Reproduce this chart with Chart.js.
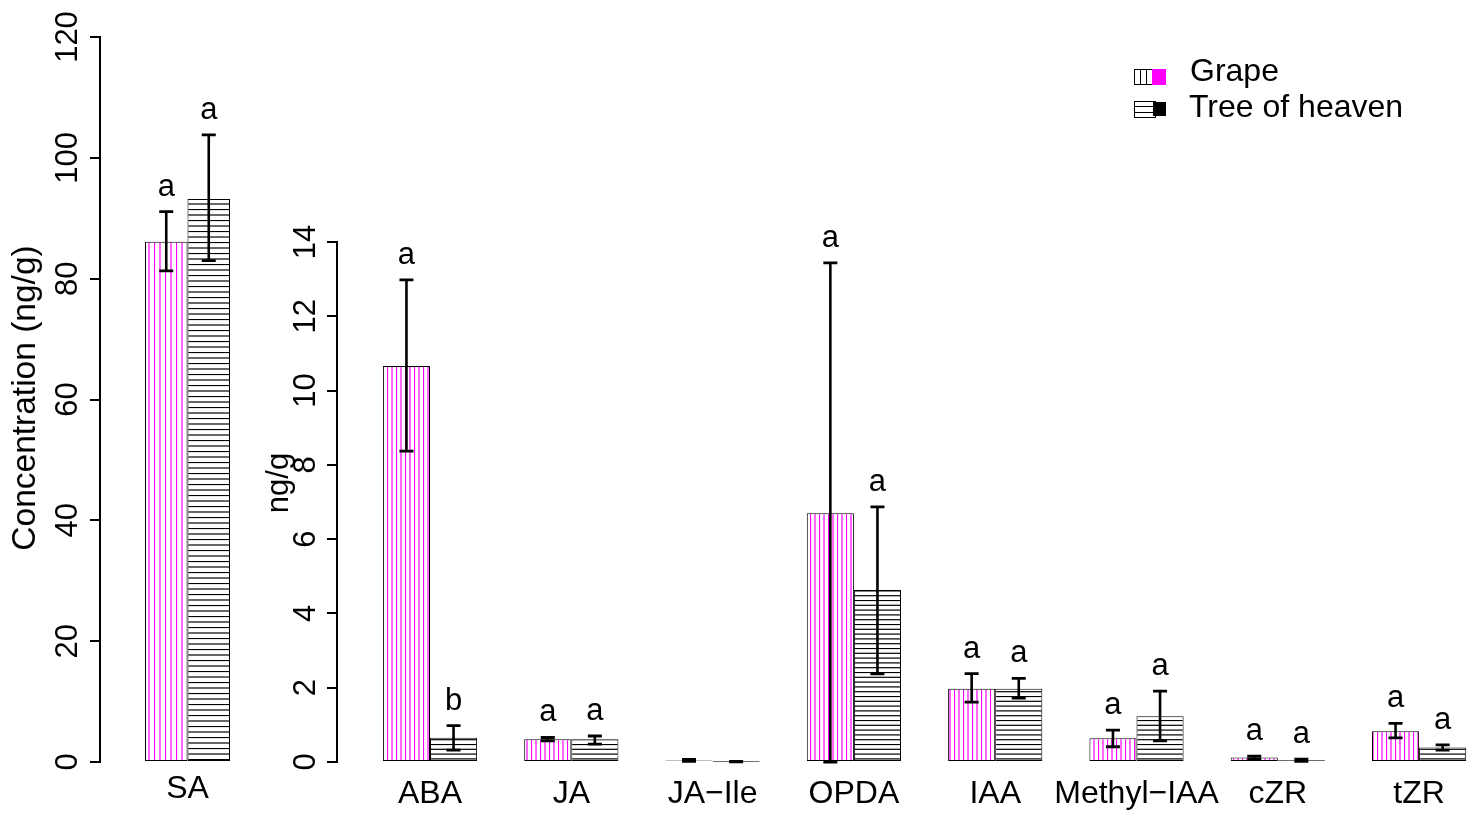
<!DOCTYPE html>
<html><head><meta charset="utf-8">
<script src="https://cdn.jsdelivr.net/npm/chart.js@4.4.0/dist/chart.umd.min.js"></script>
<style>
html,body{margin:0;padding:0;background:#fff;overflow:hidden;width:1481px;height:814px}
canvas{position:absolute;left:0;top:0}
</style></head><body>
<canvas id="c1" width="275" height="814"></canvas>
<canvas id="c2" width="1481" height="814"></canvas>
<script>
// ---- data: SA panel (left axis, ng/g) ----
const saCategory = ['SA'];
const saGrape = [86.1];
const saGrapeLow = [81.3];
const saGrapeHigh = [91.1];
const saTree = [93.2];
const saTreeLow = [83.0];
const saTreeHigh = [103.8];
const saGrapeLetters = ['a'];
const saTreeLetters = ['a'];
const saTicks = [0, 20, 40, 60, 80, 100, 120];

// ---- data: other hormones (inner axis, ng/g) ----
const categories = ['ABA', 'JA', 'JA\u2212Ile', 'OPDA', 'IAA', 'Methyl\u2212IAA', 'cZR', 'tZR'];
const grapeMean = [10.66, 0.61, 0.04, 6.70, 1.97, 0.64, 0.12, 0.83];
const grapeLow  = [8.37, 0.57, 0.02, 0.00, 1.61, 0.41, 0.08, 0.65];
const grapeHigh = [12.98, 0.66, 0.07, 13.44, 2.38, 0.86, 0.16, 1.04];
const treeMean  = [0.65, 0.61, 0.01, 4.63, 1.97, 1.23, 0.05, 0.39];
const treeLow   = [0.32, 0.48, 0.005, 2.37, 1.72, 0.57, 0.02, 0.32];
const treeHigh  = [0.98, 0.70, 0.015, 6.87, 2.25, 1.91, 0.08, 0.46];
const grapeLetters = ['a', 'a', '', 'a', 'a', 'a', 'a', 'a'];
const treeLetters  = ['b', 'a', '', 'a', 'a', 'a', 'a', 'a'];
const hormoneTicks = [0, 2, 4, 6, 8, 10, 12, 14];
const seriesNames = ['Grape', 'Tree of heaven'];

const FONT = '"Liberation Sans", Arial, Helvetica, sans-serif';
const MAGENTA = '#ff00ff';

function makeHatch(color, vertical, spacing, n) {
  const size = Math.round(spacing * n);
  const c = document.createElement('canvas');
  c.width = vertical ? size : 4;
  c.height = vertical ? 4 : size;
  const g = c.getContext('2d');
  g.fillStyle = '#fff';
  g.fillRect(0, 0, c.width, c.height);
  g.strokeStyle = color;
  g.lineWidth = 1.2;
  for (let i = 0; i < n; i++) {
    const p = i * size / n + 0.5;
    g.beginPath();
    if (vertical) { g.moveTo(p, 0); g.lineTo(p, c.height); }
    else { g.moveTo(0, p); g.lineTo(c.width, p); }
    g.stroke();
  }
  return g.createPattern(c, 'repeat');
}

function errorPlugin(lows, highs, letters) {
  return {
    id: 'errs',
    afterDatasetsDraw(chart) {
      const ctx = chart.ctx;
      const ys = chart.scales.y;
      chart.data.datasets.forEach((ds, di) => {
        const meta = chart.getDatasetMeta(di);
        meta.data.forEach((el, i) => {
          const x = el.x;
          const yl = ys.getPixelForValue(lows[di][i]);
          const yh = ys.getPixelForValue(highs[di][i]);
          ctx.save();
          ctx.strokeStyle = '#000';
          ctx.lineWidth = 2.6;
          ctx.beginPath(); ctx.moveTo(x, yl); ctx.lineTo(x, yh); ctx.stroke();
          ctx.lineWidth = 2.8;
          ctx.beginPath();
          ctx.moveTo(x - 7, yl); ctx.lineTo(x + 7, yl);
          ctx.moveTo(x - 7, yh); ctx.lineTo(x + 7, yh);
          ctx.stroke();
          const L = letters[di][i];
          if (L) {
            ctx.fillStyle = '#000';
            ctx.font = '31px ' + FONT;
            ctx.textAlign = 'center';
            ctx.textBaseline = 'alphabetic';
            ctx.fillText(L, x, yh - 16);
          }
          ctx.restore();
        });
      });
    }
  };
}

function axisTextPlugin(opts) {
  return {
    id: 'axtext',
    afterDraw(chart) {
      const ctx = chart.ctx;
      const ys = chart.scales.y;
      const xs = chart.scales.x;
      ctx.save();
      ctx.fillStyle = '#000';
      ctx.font = '31px ' + FONT;
      // y tick labels, rotated (R style)
      ys.ticks.forEach(t => {
        const y = ys.getPixelForValue(t.value);
        ctx.save();
        ctx.translate(ys.right - opts.tickOff, y);
        ctx.rotate(-Math.PI / 2);
        ctx.textAlign = 'center';
        ctx.textBaseline = 'alphabetic';
        ctx.fillText(String(t.value), 0, 0);
        ctx.restore();
      });
      // y title
      ctx.save();
      ctx.font = opts.titleSize + 'px ' + FONT;
      ctx.translate(opts.titleX, opts.titleY);
      ctx.rotate(-Math.PI / 2);
      ctx.textAlign = 'center';
      ctx.textBaseline = 'alphabetic';
      ctx.fillText(opts.title, 0, 0);
      ctx.restore();
      // x category labels
      ctx.font = '32px ' + FONT;
      ctx.textAlign = 'center';
      ctx.textBaseline = 'alphabetic';
      opts.labels.forEach((lab, i) => {
        ctx.fillText(lab, xs.getPixelForValue(opts.xval(i)), opts.labelY);
      });
      ctx.restore();
    }
  };
}

const legendPlugin = {
  id: 'leg',
  afterDraw(chart) {
    const ctx = chart.ctx;
    ctx.save();
    ctx.lineWidth = 1;
    // Grape
    ctx.fillStyle = '#fff';
    ctx.fillRect(1134, 69, 22, 16);
    ctx.strokeStyle = '#000';
    ctx.beginPath();
    for (let x = 1140.5; x < 1156; x += 6) { ctx.moveTo(x, 69); ctx.lineTo(x, 85); }
    ctx.stroke();
    ctx.strokeRect(1134.5, 69.5, 21, 15);
    ctx.fillStyle = MAGENTA;
    ctx.fillRect(1152, 69, 14, 16);
    // Tree of heaven
    ctx.fillStyle = '#fff';
    ctx.fillRect(1134, 101, 22, 17);
    ctx.beginPath();
    for (let y = 106.5; y < 118; y += 6) { ctx.moveTo(1134, y); ctx.lineTo(1156, y); }
    ctx.stroke();
    ctx.strokeRect(1134.5, 101.5, 21, 16);
    ctx.fillStyle = '#000';
    ctx.fillRect(1153, 102, 13, 14);
    ctx.font = '32px ' + FONT;
    ctx.textAlign = 'left';
    ctx.textBaseline = 'alphabetic';
    ctx.fillText(seriesNames[0], 1190, 81);
    ctx.fillText(seriesNames[1], 1189, 117);
    ctx.restore();
  }
};

function yAxis(max, ticks, width) {
  return {
    min: 0, max: max,
    afterBuildTicks: s => { s.ticks = ticks.map(v => ({ value: v })); },
    ticks: { display: false },
    grid: { drawOnChartArea: false, drawTicks: true, tickLength: 10, color: '#000', lineWidth: 2 },
    border: { display: true, color: '#000', width: 2 },
    afterFit: s => { s.width = width; }
  };
}

const common = {
  responsive: false,
  animation: false,
  devicePixelRatio: 1,
  plugins: { legend: { display: false }, tooltip: { enabled: false } }
};

// ---- Chart 1: SA ----
new Chart(document.getElementById('c1'), {
  type: 'bar',
  data: {
    labels: saCategory,
    datasets: [
      { label: seriesNames[0], data: saGrape, backgroundColor: makeHatch(MAGENTA, true, 5.4, 2),
        borderColor: '#000', borderWidth: 1, borderSkipped: false },
      { label: seriesNames[1], data: saTree, backgroundColor: makeHatch('#000', false, 5.5, 2),
        borderColor: '#000', borderWidth: 1, borderSkipped: false }
    ]
  },
  options: Object.assign({}, common, {
    layout: { padding: { top: 37, bottom: 52, left: 0, right: 0 } },
    datasets: { bar: { categoryPercentage: 85 / 175, barPercentage: 1 } },
    scales: {
      x: { display: false },
      y: yAxis(120, saTicks, 100)
    }
  }),
  plugins: [
    errorPlugin([saGrapeLow, saTreeLow], [saGrapeHigh, saTreeHigh], [saGrapeLetters, saTreeLetters]),
    axisTextPlugin({ tickOff: 23, title: 'Concentration (ng/g)', titleSize: 33.5, titleX: 35, titleY: 398,
      labels: saCategory, xval: i => i, labelY: 798 })
  ]
});

// ---- Chart 2: other hormones ----
new Chart(document.getElementById('c2'), {
  type: 'bar',
  data: {
    datasets: [
      { label: seriesNames[0], data: categories.map((c, i) => ({ x: i + 1, y: grapeMean[i] })),
        backgroundColor: makeHatch(MAGENTA, true, 4.5, 2),
        borderColor: '#000', borderWidth: 1, borderSkipped: false },
      { label: seriesNames[1], data: categories.map((c, i) => ({ x: i + 1, y: treeMean[i] })),
        backgroundColor: makeHatch('#000', false, 4.8, 5),
        borderColor: '#000', borderWidth: 1, borderSkipped: false }
    ]
  },
  options: Object.assign({}, common, {
    layout: { padding: { top: 242, bottom: 52, left: 0, right: 0 } },
    datasets: { bar: { categoryPercentage: 2 / 3, barPercentage: 1 } },
    scales: {
      x: { type: 'linear', display: false, offset: false, grid: { offset: false },
           min: 1 - 93 / 141.3, max: 1 + (1481 - 430) / 141.3 },
      y: yAxis(14, hormoneTicks, 337)
    }
  }),
  plugins: [
    errorPlugin([grapeLow, treeLow], [grapeHigh, treeHigh], [grapeLetters, treeLetters]),
    axisTextPlugin({ tickOff: 22, title: 'ng/g', titleSize: 31, titleX: 288, titleY: 483,
      labels: categories, xval: i => i + 1, labelY: 803 }),
    legendPlugin
  ]
});
</script>
</body></html>
